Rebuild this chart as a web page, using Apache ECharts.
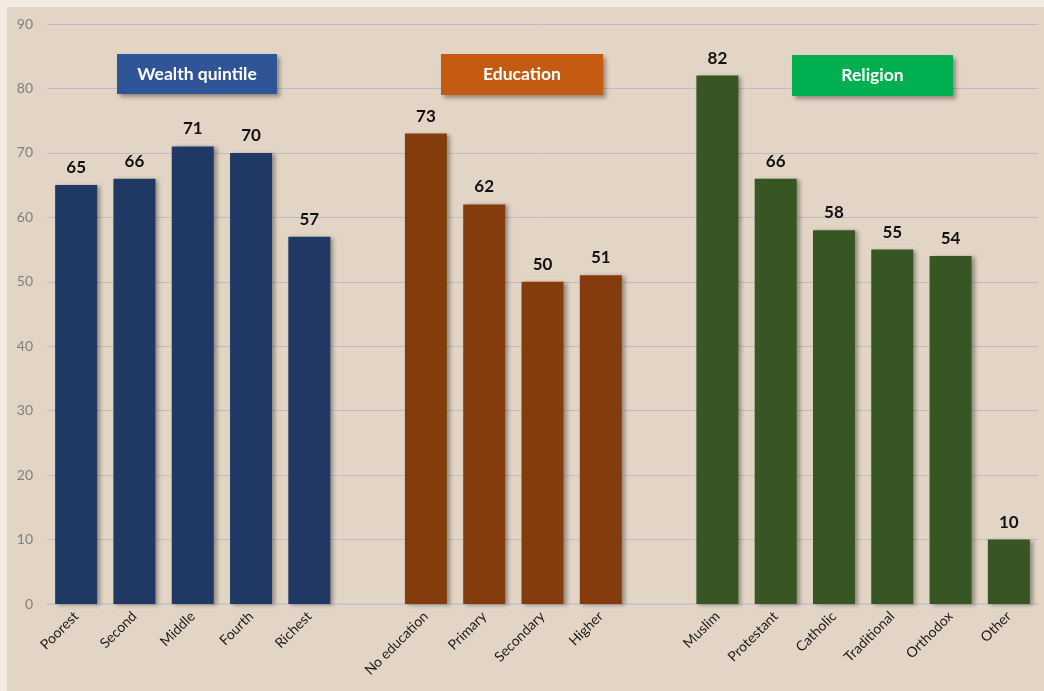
<!DOCTYPE html>
<html><head><meta charset="utf-8">
<script src="https://cdn.jsdelivr.net/npm/echarts@6/dist/echarts.min.js"></script>
<style>
html,body{margin:0;padding:0;background:#f4ebe2;width:1044px;height:691px;overflow:hidden;}
#c{position:absolute;left:7px;top:7px;width:1037px;height:684px;background:#e3d5c5;}
</style></head><body><div id="c"></div>
<script>
const wealthCats = ['Poorest','Second','Middle','Fourth','Richest'];
const wealthVals = [65,66,71,70,57];
const eduCats = ['No education','Primary','Secondary','Higher'];
const eduVals = [73,62,50,51];
const relCats = ['Muslim','Protestant','Catholic','Traditional','Orthodox','Other'];
const relVals = [82,66,58,55,54,10];
const yTicks = [0,10,20,30,40,50,60,70,80,90];

const cats = [...wealthCats, ' ', ...eduCats, '  ', ...relCats];
const n = cats.length;
function place(vals, offset){
  const arr = new Array(n).fill('-');
  vals.forEach((v,i)=>arr[offset+i]=v);
  return arr;
}
const wData = place(wealthVals, 0);
const eData = place(eduVals, wealthCats.length+1);
const rData = place(relVals, wealthCats.length+eduCats.length+2);

const FONT = 'Lato, "Open Sans", sans-serif';
function mkSeries(name, data, color){
  return {
    name, type:'bar', data, barWidth:42, barGap:'-100%',
    itemStyle:{color, shadowColor:'rgba(0,0,0,0.35)', shadowBlur:4, shadowOffsetX:3, shadowOffsetY:1},
    label:{show:true, position:'top', distance:9, color:'#111', fontWeight:'bold', fontSize:17, fontFamily:FONT}
  };
}
function box(x,y,w,h,text,fill){
  return [
    {type:'rect', left:x, top:y, z:100, shape:{x:0,y:0,width:w,height:h},
     style:{fill, shadowColor:'rgba(0,0,0,0.35)', shadowBlur:4, shadowOffsetX:3, shadowOffsetY:3}},
    {type:'text', x:x+w/2, y:y+h/2, z:101,
     style:{text, fill:'#ffffff', fontSize:17.5, fontWeight:'bold', fontFamily:FONT, align:'center', verticalAlign:'middle'}}
  ];
}
const chart = echarts.init(document.getElementById('c'), null, {renderer:'canvas'});
chart.setOption({
  animation:false,
  grid:{left:40, right:6, top:17, bottom:87, containLabel:false},
  xAxis:{type:'category', data:cats,
    axisLine:{show:true, lineStyle:{color:'#c8c6c8', width:1.5}},
    axisTick:{show:false},
    axisLabel:{interval:0, rotate:45, color:'#1a1a1a', fontSize:14, fontFamily:FONT, margin:10}},
  yAxis:{type:'value', min:yTicks[0], max:yTicks[yTicks.length-1], interval:10,
    axisLine:{show:false}, axisTick:{show:false},
    axisLabel:{color:'#7f7f7f', fontSize:14, fontFamily:FONT, margin:14},
    splitLine:{lineStyle:{color:'#bdbcc2', width:1}}},
  series:[
    mkSeries('Wealth quintile', wData, '#1f3864'),
    mkSeries('Education', eData, '#843c0c'),
    mkSeries('Religion', rData, '#375623')
  ],
  graphic:{z:100, elements:[
    ...box(110,47,160,40,'Wealth quintile','#2f5597'),
    ...box(434,47,162,41,'Education','#c55a11'),
    ...box(785,48,161,41,'Religion','#00b050')
  ]}
});
</script></body></html>
